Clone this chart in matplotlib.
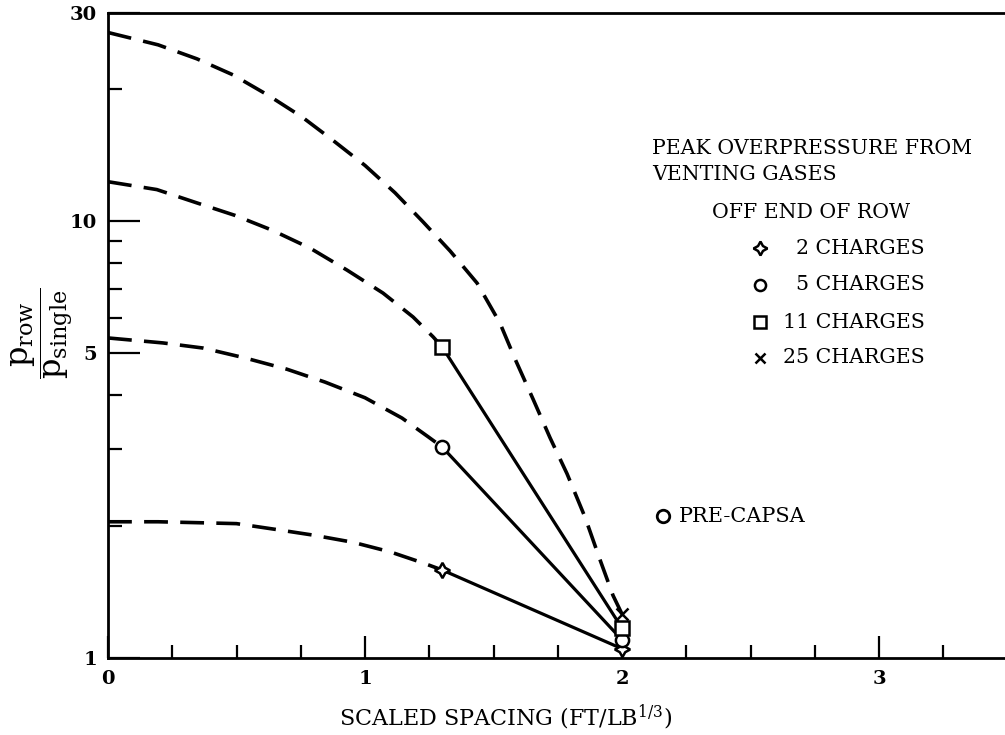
import matplotlib
matplotlib.use("Agg")
import matplotlib.pyplot as plt
from matplotlib.lines import Line2D
from matplotlib.ticker import FixedLocator, NullFormatter, FixedFormatter

plt.rcParams['font.family'] = ['DejaVu Serif']
plt.rcParams['mathtext.fontset'] = 'dejavuserif'

# ---- data ----
# dashed (extrapolated) portions
x_dash_2 = [0.0, 0.195, 0.35, 0.50, 0.65, 0.80, 0.953, 1.097, 1.226, 1.30]
y_dash_2 = [2.05, 2.05, 2.04, 2.03, 1.97, 1.91, 1.84, 1.75, 1.65, 1.59]

x_dash_5 = [0.0, 0.214, 0.37, 0.533, 0.696, 0.844, 1.0, 1.144, 1.245, 1.30]
y_dash_5 = [5.40, 5.26, 5.12, 4.86, 4.58, 4.28, 3.94, 3.54, 3.21, 3.04]

x_dash_11 = [0.0, 0.19, 0.346, 0.494, 0.638, 0.786, 0.930, 1.07, 1.187, 1.265, 1.30]
y_dash_11 = [12.3, 11.8, 11.0, 10.3, 9.53, 8.67, 7.72, 6.84, 6.03, 5.43, 5.15]

x_dash_25 = [0.0, 0.195, 0.346, 0.486, 0.623, 0.755, 0.875, 1.0, 1.117, 1.226,
             1.331, 1.436, 1.525, 1.584, 1.654, 1.720, 1.786, 1.856, 1.914, 1.965, 2.0]
y_dash_25 = [27.0, 25.3, 23.5, 21.6, 19.4, 17.3, 15.3, 13.4, 11.6, 9.95,
             8.54, 7.21, 5.84, 4.83, 3.91, 3.19, 2.64, 2.10, 1.68, 1.39, 1.26]

# measured points (solid segments)
x_meas = [1.3, 2.0]
y_meas_2 = [1.59, 1.05]
y_meas_5 = [3.04, 1.10]
y_meas_11 = [5.15, 1.17]
y_meas_25 = [1.26]

precapsa_x = [2.16]
precapsa_y = [2.11]

legend_labels = ["2 CHARGES", "5 CHARGES", "11 CHARGES", "25 CHARGES"]
y_ticks_major = [1, 5, 10, 30]
y_ticks_minor = [2, 3, 4, 6, 7, 8, 9, 20]
x_ticks_major = [0, 1, 2, 3]
x_ticks_minor = [0.25, 0.5, 0.75, 1.25, 1.5, 1.75, 2.25, 2.5, 2.75, 3.25]

# ---- figure ----
W, H = 1005, 735
fig = plt.figure(figsize=(W / 100, H / 100), dpi=100)
ax = fig.add_axes([108 / W, 1 - 658 / H, 1 - 108 / W, (658 - 12.5) / H])
ax.set_yscale('log')
ax.set_xlim(0, 3.49)
ax.set_ylim(1, 30)

dash = (0, (6.6, 3.4))
lw_d = 2.6
lw_s = 2.3
for xd, yd in [(x_dash_2, y_dash_2), (x_dash_5, y_dash_5),
               (x_dash_11, y_dash_11), (x_dash_25, y_dash_25)]:
    ax.plot(xd, yd, color='black', lw=lw_d, linestyle=dash, dash_capstyle='butt',
            solid_joinstyle='round', dash_joinstyle='round', zorder=2)

star = (4, 1, 0)
ax.plot(x_meas, y_meas_2, color='black', lw=lw_s, zorder=3)
ax.plot(x_meas, y_meas_5, color='black', lw=lw_s, zorder=3)
ax.plot(x_meas, y_meas_11, color='black', lw=lw_s, zorder=3)

ax.plot(x_meas, y_meas_2, linestyle='none', marker=star, ms=11, mfc='white',
        mec='black', mew=1.8, zorder=5)
ax.plot(x_meas, y_meas_5, linestyle='none', marker='o', ms=9.5, mfc='white',
        mec='black', mew=1.8, zorder=5)
ax.plot(x_meas, y_meas_11, linestyle='none', marker='s', ms=9.5, mfc='white',
        mec='black', mew=1.8, zorder=5)
ax.plot([2.0], y_meas_25, linestyle='none', marker='x', ms=8, mec='black',
        mew=1.8, zorder=6)

ax.plot(precapsa_x, precapsa_y, linestyle='none', marker='o', ms=9, mfc='white',
        mec='black', mew=2.0, zorder=5)
ax.text(2.22, precapsa_y[0], "PRE-CAPSA", fontsize=15, va='center', ha='left')

# ---- ticks ----
ax.yaxis.set_major_locator(FixedLocator(y_ticks_major))
ax.yaxis.set_major_formatter(FixedFormatter([str(v) for v in y_ticks_major]))
ax.yaxis.set_minor_locator(FixedLocator(y_ticks_minor))
ax.yaxis.set_minor_formatter(NullFormatter())
ax.xaxis.set_major_locator(FixedLocator(x_ticks_major))
ax.xaxis.set_major_formatter(FixedFormatter([str(v) for v in x_ticks_major]))
ax.xaxis.set_minor_locator(FixedLocator(x_ticks_minor))

ax.tick_params(axis='y', which='major', direction='in', length=23, width=1.6,
               labelsize=14, pad=8)
ax.tick_params(axis='y', which='minor', direction='in', length=10, width=1.6)
ax.tick_params(axis='x', which='major', direction='in', length=16, width=1.6,
               labelsize=14, pad=9)
ax.tick_params(axis='x', which='minor', direction='in', length=9.5, width=1.6)
for lab in ax.get_yticklabels() + ax.get_xticklabels():
    lab.set_fontweight('bold')

ax.spines['right'].set_visible(False)
for s in ['left', 'bottom', 'top']:
    ax.spines[s].set_linewidth(2.0)


def fx(px):
    return px / W


def fy(py):
    return 1 - py / H


# axis titles
fig.text(fx(506), fy(717), r"SCALED SPACING (FT/LB$^{1/3}$)", fontsize=16,
         ha='center', va='center')
fig.text(fx(42), fy(333),
         r"$\dfrac{\mathrm{p}_{\mathrm{row}}}{\mathrm{p}_{\mathrm{single}}}$",
         fontsize=23, rotation=90, ha='center', va='center')

# ---- legend block as text ----
fs_leg = 14.8
fig.text(fx(652), fy(148), "PEAK OVERPRESSURE FROM", fontsize=fs_leg, va='center', ha='left')
fig.text(fx(652), fy(174), "VENTING GASES", fontsize=fs_leg, va='center', ha='left')
fig.text(fx(712), fy(212), "OFF END OF ROW", fontsize=fs_leg, va='center', ha='left')
rows_y = [248, 285, 322, 358]
markers = [star, 'o', 's', 'x']
msizes = [10, 8, 9, 7]
for lab, ry, mk, msz in zip(legend_labels, rows_y, markers, msizes):
    fig.text(fx(925), fy(ry), lab, fontsize=fs_leg, va='center', ha='right')
    fig.add_artist(Line2D([fx(760)], [fy(ry)], marker=mk, ms=msz,
                          mfc='white', mec='black', mew=1.8,
                          linestyle='none', transform=fig.transFigure))

fig.savefig("out.png", dpi=100)
